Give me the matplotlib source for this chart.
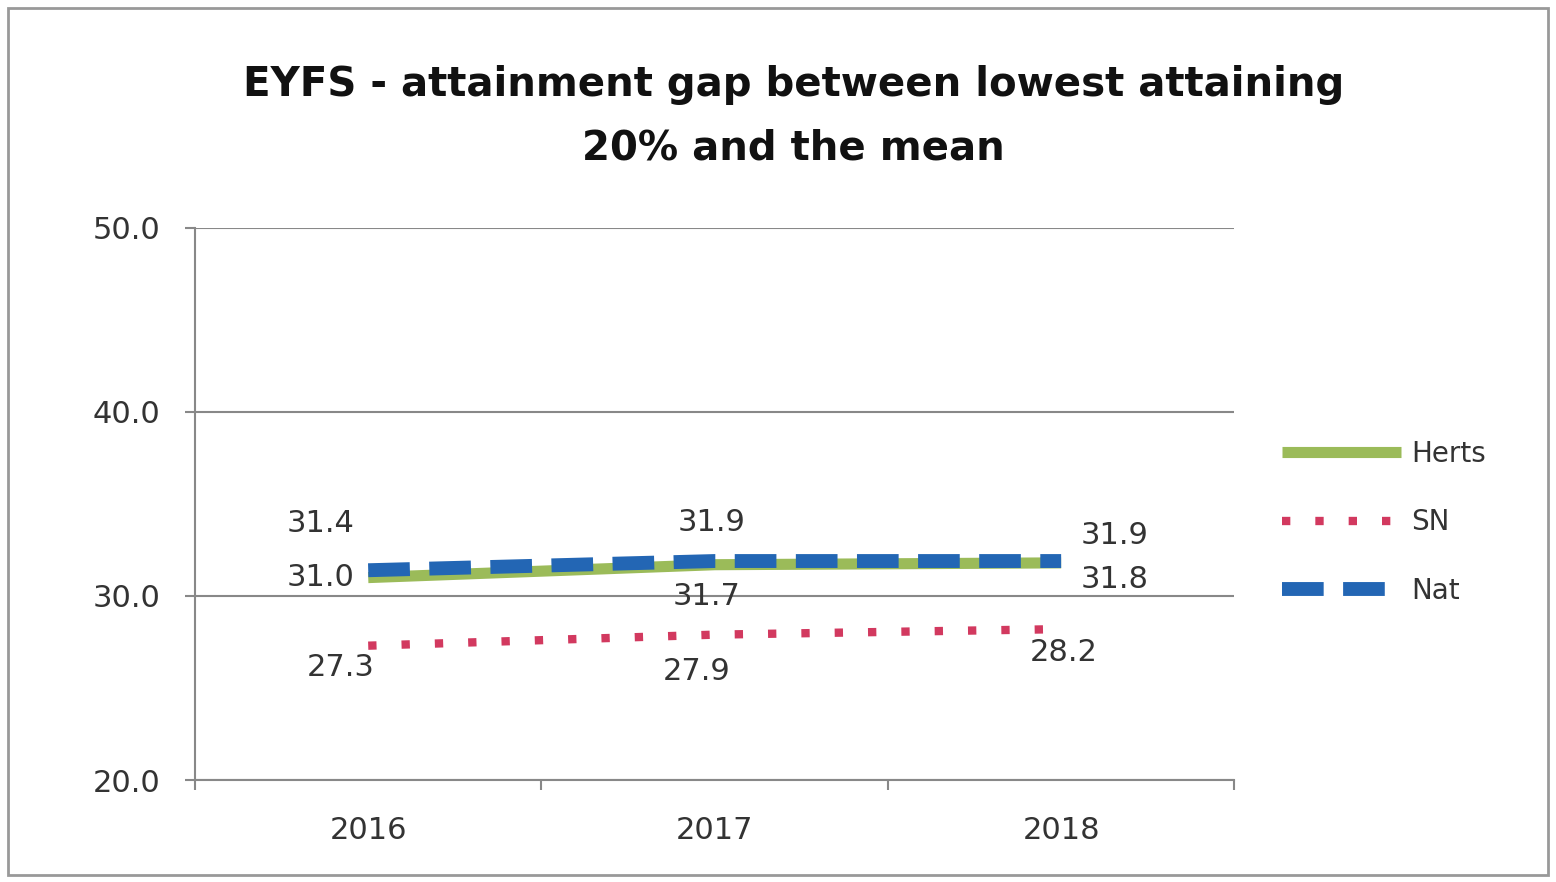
import matplotlib
matplotlib.use("Agg")
import matplotlib.pyplot as plt
from matplotlib.patches import Rectangle

years = ["2016", "2017", "2018"]
herts = [31.0, 31.7, 31.8]
sn = [27.3, 27.9, 28.2]
nat = [31.4, 31.9, 31.9]
y_ticks = [20.0, 30.0, 40.0, 50.0]

fig = plt.figure(figsize=(15.56, 8.82), dpi=100)
ax = fig.add_axes([0.1253, 0.1156, 0.668, 0.626])

x = range(len(years))
l_herts, = ax.plot(x, herts, color="#9BBB59", lw=8, solid_capstyle="butt", zorder=3)
l_sn, = ax.plot(x, sn, color="#D2395F", lw=6, linestyle=(0, (1, 3)),
                dash_capstyle="butt", zorder=3)
l_nat, = ax.plot(x, nat, color="#2366B4", lw=10, linestyle=(0, (3, 1.4)),
                 dash_capstyle="butt", zorder=4)

# label offsets in pixels
offs = {
    "nat": [(-48, 47), (-3, 39), (53, 26)],
    "herts": [(-48, 0), (-8, -32), (53, -17)],
    "sn": [(-28, -22), (-18, -37), (3, -23)],
}
for name, vals in [("nat", nat), ("herts", herts), ("sn", sn)]:
    for i, v in enumerate(vals):
        ax.annotate(f"{v:.1f}", (i, v), xytext=offs[name][i], textcoords="offset pixels",
                    ha="center", va="center", fontsize=22, color="#333333", zorder=5)

ax.set_xlim(-0.5, 2.5)
ax.set_ylim(20, 50)
ax.set_yticks(y_ticks)
ax.set_yticklabels([f"{t:.1f}" for t in y_ticks])
ax.set_xticks(list(x))
ax.set_xticklabels(years)
ax.set_xticks([-0.5, 0.5, 1.5, 2.5], minor=True)
ax.tick_params(axis="x", which="major", length=0, pad=26, labelsize=22, labelcolor="#333333")
ax.tick_params(axis="x", which="minor", length=7, width=1.5, color="#888888")
ax.tick_params(axis="y", length=7, width=1.5, color="#888888", pad=18,
               labelsize=22, labelcolor="#333333")

ax.grid(axis="y", color="#888888", lw=1.5)
ax.set_axisbelow(True)
for s in ["top", "right"]:
    ax.spines[s].set_visible(False)
for s in ["left", "bottom"]:
    ax.spines[s].set_color("#888888")
    ax.spines[s].set_linewidth(1.5)

fig.text(0.51, 0.868, "EYFS - attainment gap between lowest attaining\n20% and the mean",
         ha="center", va="center", fontsize=29, fontweight="bold", linespacing=1.75,
         color="#111111")

fig.legend([l_herts, l_sn, l_nat], ["Herts", "SN", "Nat"], loc="upper left",
           bbox_to_anchor=(1282 / 1556, 1 - 440 / 882), frameon=False, fontsize=20,
           handlelength=4.3, handletextpad=0.35, labelspacing=1.45, borderpad=0,
           borderaxespad=0, labelcolor="#333333")

fig.patches.append(Rectangle((8 / 1556, 7 / 882), 1540 / 1556, 867 / 882,
                             transform=fig.transFigure, fill=False,
                             edgecolor="#999999", lw=2))

fig.savefig("out.png", dpi=100)
